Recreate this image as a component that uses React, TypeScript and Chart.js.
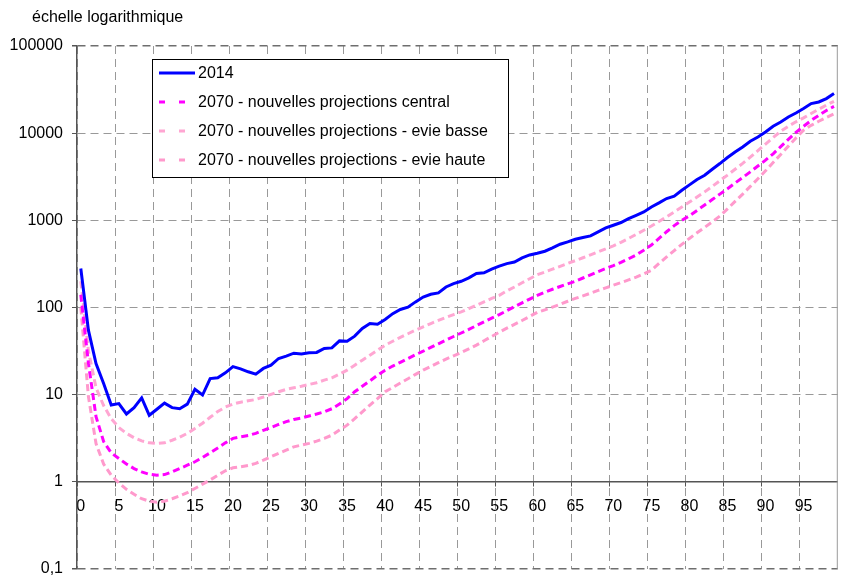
import React, { useEffect, useRef } from 'react';
import { Chart, registerables } from 'chart.js';

Chart.register(...registerables);

const FONT = '"Liberation Sans", Arial, Helvetica, sans-serif';

const titleText = 'échelle logarithmique';

const ages = [
  0, 1, 2, 3, 4, 5, 6, 7, 8, 9,
  10, 11, 12, 13, 14, 15, 16, 17, 18, 19,
  20, 21, 22, 23, 24, 25, 26, 27, 28, 29,
  30, 31, 32, 33, 34, 35, 36, 37, 38, 39,
  40, 41, 42, 43, 44, 45, 46, 47, 48, 49,
  50, 51, 52, 53, 54, 55, 56, 57, 58, 59,
  60, 61, 62, 63, 64, 65, 66, 67, 68, 69,
  70, 71, 72, 73, 74, 75, 76, 77, 78, 79,
  80, 81, 82, 83, 84, 85, 86, 87, 88, 89,
  90, 91, 92, 93, 94, 95, 96, 97, 98, 99,
];

const xLabelEvery = 5;

const yTickValues = [0.1, 1, 10, 100, 1000, 10000, 100000];
const yTickLabels = ['0,1', '1', '10', '100', '1000', '10000', '100000'];

const seriesNames = [
  '2014',
  '2070 - nouvelles projections central',
  '2070 - nouvelles projections - evie basse',
  '2070 - nouvelles projections - evie haute',
];

const mort2014 = [
  280, 55, 22.8, 13.4, 7.6, 7.9, 6.0, 7.1, 9.2, 5.8,
  6.8, 8.0, 7.1, 6.9, 7.8, 11.5, 9.9, 15.3, 15.6, 17.8,
  21, 19.8, 18.3, 17.2, 20, 21.8, 26, 27.7, 29.9, 29.2,
  30.2, 30.5, 33.9, 34.4, 41.4, 41.1, 46.9, 57.4, 65.5, 64.3,
  73, 85, 95, 101, 116, 132, 142, 147, 172, 188,
  200, 219, 246, 250, 275, 298, 319, 333, 371, 401,
  420, 442, 483, 532, 565, 607, 635, 663, 736, 818,
  879, 944, 1048, 1143, 1248, 1425, 1584, 1778, 1889, 2213,
  2550, 2937, 3290, 3855, 4480, 5250, 6085, 6950, 8075, 9040,
  10320, 12000, 13430, 15340, 17050, 19150, 21850, 22800, 24950, 28450,
];

const central2070 = [
  140, 23, 5.6, 2.9, 2.15, 1.85, 1.6, 1.42, 1.3, 1.22,
  1.19, 1.21, 1.3, 1.42, 1.55, 1.7, 1.9, 2.15, 2.45, 2.8,
  3.15, 3.28, 3.4, 3.6, 3.9, 4.2, 4.55, 4.9, 5.2, 5.4,
  5.7, 6.0, 6.35, 6.9, 7.8, 9.0, 10.8, 12.5, 14.4, 16.7,
  19.1, 21.3, 23.5, 26, 28.7, 31.5, 34.8, 38.3, 42.2, 46.5,
  51, 56, 62, 68.5, 75.5, 83, 92, 102, 113, 125,
  138, 150, 162, 174, 187, 200, 218, 237, 258, 280,
  303, 330, 362, 400, 455, 520, 620, 740, 870, 1000,
  1130, 1300, 1500, 1730, 2000, 2300, 2680, 3100, 3600, 4200,
  4900, 5800, 7000, 8500, 10200, 12000, 14000, 16000, 18200, 20300,
];

const basse2070 = [
  200, 32, 12, 7.5, 5.3, 4.2, 3.6, 3.2, 2.95, 2.8,
  2.75, 2.8, 3.0, 3.25, 3.6, 4.1, 4.7, 5.5, 6.4, 7.2,
  7.8, 8.2, 8.5, 8.8, 9.4, 10.1, 10.8, 11.5, 12, 12.5,
  13.1, 13.7, 14.7, 15.6, 17.2, 19.1, 21.8, 24.9, 28.4, 32.4,
  37, 41, 45.5, 50, 55, 60, 65.5, 71, 77, 83,
  89, 97, 106, 116, 127, 138, 155, 172, 192, 214,
  238, 255, 275, 296, 320, 345, 372, 402, 435, 470,
  510, 560, 620, 690, 770, 860, 970, 1100, 1250, 1420,
  1620, 1850, 2120, 2450, 2850, 3300, 3850, 4500, 5300, 6300,
  7500, 8900, 10500, 12000, 13500, 15000, 16800, 18800, 21000, 23200,
];

const haute2070 = [
  100, 9.5, 2.75, 1.6, 1.19, 0.97, 0.82, 0.72, 0.64, 0.6,
  0.585, 0.6, 0.64, 0.69, 0.75, 0.84, 0.94, 1.05, 1.19, 1.34,
  1.45, 1.49, 1.54, 1.63, 1.77, 1.94, 2.12, 2.31, 2.52, 2.64,
  2.76, 2.93, 3.15, 3.43, 3.92, 4.47, 5.3, 6.35, 7.6, 9.0,
  10.8, 12.1, 13.6, 15.2, 17.1, 19.1, 21.1, 23.3, 25.6, 27.9,
  30.5, 33.5, 37, 41.5, 46.5, 52, 58, 64, 71, 79,
  88, 94, 101, 109, 118, 127, 136, 146, 157, 168,
  180, 193, 207, 223, 243, 268, 320, 380, 450, 530,
  620, 720, 830, 960, 1120, 1350, 1650, 2000, 2450, 3000,
  3700, 4600, 5700, 7100, 8800, 10800, 12300, 13700, 15100, 16600,
];

const overlayPlugin = {
  id: 'overlay',
  afterDraw(chart: any) {
    const ctx = chart.ctx;
    const area = chart.chartArea;
    ctx.save();
    // right border of plot area
    ctx.strokeStyle = '#9a9a9a';
    ctx.lineWidth = 1;
    ctx.setLineDash([]);
    ctx.beginPath();
    ctx.moveTo(area.right - 0.5, area.top);
    ctx.lineTo(area.right - 0.5, area.bottom);
    ctx.stroke();

    // title
    ctx.font = `16px ${FONT}`;
    ctx.fillStyle = '#000';
    ctx.textBaseline = 'middle';
    ctx.textAlign = 'left';
    ctx.fillText(titleText, 32, 18);

    // legend box
    const lx = 152, ly = 59, lw = 356, lh = 118;
    ctx.fillStyle = '#fff';
    ctx.fillRect(lx, ly, lw, lh);
    ctx.strokeStyle = '#000';
    ctx.lineWidth = 1;
    ctx.strokeRect(lx + 0.5, ly + 0.5, lw, lh);
    chart.data.datasets.forEach((ds: any, i: number) => {
      const y = 74 + i * 29;
      ctx.strokeStyle = ds.borderColor;
      ctx.lineWidth = 3;
      ctx.setLineDash(ds.borderDash && ds.borderDash.length ? [6, 14] : []);
      ctx.beginPath();
      ctx.moveTo(159, y - 1);
      ctx.lineTo(195, y - 1);
      ctx.stroke();
      ctx.setLineDash([]);
      ctx.fillStyle = '#000';
      ctx.fillText(ds.label, 198, y);
    });
    ctx.restore();
  },
};

export default function App() {
  const canvasRef = useRef<HTMLCanvasElement | null>(null);

  useEffect(() => {
    const canvas = canvasRef.current;
    if (!canvas) return;
    Chart.defaults.font.family = FONT;
    const gridGray = '#999999';
    const edgeGray = '#6e6e6e';
    const axisGray = '#555555';
    const lastY = yTickValues.length - 1;
    const chart = new Chart(canvas, {
      type: 'line',
      data: {
        labels: ages.map(String),
        datasets: [
          { label: seriesNames[0], data: mort2014, borderColor: '#0000FF', backgroundColor: '#0000FF', borderWidth: 3, pointRadius: 0, borderDash: [], tension: 0 },
          { label: seriesNames[1], data: central2070, borderColor: '#FF00FF', backgroundColor: '#FF00FF', borderWidth: 3, pointRadius: 0, borderDash: [7, 4], tension: 0 },
          { label: seriesNames[2], data: basse2070, borderColor: '#FFA6D2', backgroundColor: '#FFA6D2', borderWidth: 3, pointRadius: 0, borderDash: [7, 4], tension: 0 },
          { label: seriesNames[3], data: haute2070, borderColor: '#FF99CC', backgroundColor: '#FF99CC', borderWidth: 3, pointRadius: 0, borderDash: [7, 4], tension: 0 },
        ],
      },
      options: {
        animation: false,
        responsive: false,
        events: [],
        layout: { padding: { top: 46, right: 1, bottom: 10, left: 0 } },
        plugins: {
          legend: { display: false },
          tooltip: { enabled: false },
          title: { display: false },
        },
        scales: {
          x: {
            type: 'category',
            offset: true,
            position: { y: 1 } as any,
            grid: {
              offset: true,
              color: (c: any) => (c.index % xLabelEvery === 0 ? gridGray : 'rgba(0,0,0,0)'),
              lineWidth: 1,
              drawTicks: true,
              tickLength: 4,
              tickColor: (c: any) => (c.index % xLabelEvery === 0 ? axisGray : 'rgba(0,0,0,0)'),
              tickBorderDash: [],
            },
            border: { display: true, color: axisGray, width: 1.5, dash: [8, 5] },
            ticks: {
              autoSkip: false,
              maxRotation: 0,
              minRotation: 0,
              padding: 11,
              color: '#000',
              font: { family: FONT, size: 16 },
              callback: (_v: any, i: number) => (i % xLabelEvery === 0 ? String(ages[i]) : ''),
            },
            afterFit: (s: any) => { s.height = 0; s.paddingTop = 0; s.paddingBottom = 0; },
          },
          y: {
            type: 'logarithmic',
            min: 0.1,
            max: 100000,
            afterBuildTicks: (s: any) => { s.ticks = yTickValues.map((v) => ({ value: v })); },
            afterFit: (s: any) => { s.width = 77; s.paddingTop = 0; s.paddingBottom = 0; },
            grid: {
              color: (c: any) => (c.index === 0 || c.index === lastY ? edgeGray : gridGray),
              lineWidth: (c: any) => (c.index === 0 || c.index === lastY ? 1.5 : 1),
              tickLength: 5,
              tickColor: axisGray,
              tickBorderDash: [],
            },
            border: { display: true, color: axisGray, width: 1.5, dash: [8, 5] },
            ticks: {
              padding: 9,
              color: '#000',
              font: { family: FONT, size: 16 },
              autoSkip: false,
              callback: (v: any) => {
                const i = yTickValues.findIndex((t) => Math.abs(t - Number(v)) < 1e-9 * Math.max(1, t));
                return i >= 0 ? yTickLabels[i] : '';
              },
            },
          },
        },
      },
      plugins: [overlayPlugin],
    } as any);
    return () => chart.destroy();
  }, []);

  return (
    <div style={{ position: 'fixed', left: 0, top: 0, width: 845, height: 579, background: '#fff' }}>
      <canvas ref={canvasRef} width={845} height={579} style={{ display: 'block', width: 845, height: 579 }} />
    </div>
  );
}
